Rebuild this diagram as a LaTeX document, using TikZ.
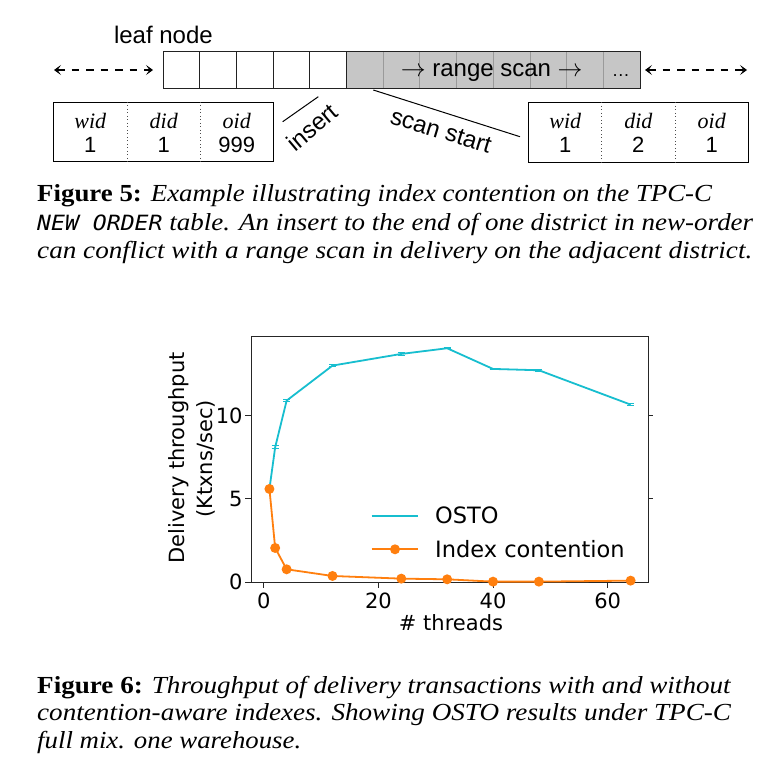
\documentclass[tikz,border=0pt]{standalone}
\usepackage{fontspec}
\usepackage{graphicx}
\setmainfont{Liberation Serif}
\setsansfont{Liberation Sans}
\newfontfamily\dejavu{DejaVu Sans}
\newfontfamily\dvmono{DejaVu Sans Mono}
\usetikzlibrary{arrows.meta}
\definecolor{tabcyan}{HTML}{17BECF}
\definecolor{taborange}{HTML}{FF7F0E}
\definecolor{cellgray}{HTML}{C6C6C6}
\definecolor{divgray}{HTML}{9A9A9A}
\definecolor{inkgray}{HTML}{222222}
\newcommand{\fitline}[2]{\resizebox{#1pt}{\height}{#2}}
\newcommand{\fs}[1]{\fontsize{#1pt}{#1pt}\selectfont}
\begin{document}
\begin{tikzpicture}[x=1pt,y=-1pt,
  cellw/.style={draw=inkgray, line width=1pt, minimum width=36.67pt, minimum height=36.6pt, inner sep=0pt, outer sep=0pt, fill=white},
  cellg/.style={cellw, draw=divgray, fill=cellgray},
  sanslab/.style={font=\sffamily\fs{24}, inner sep=0pt, text=black},
  tabbox/.style={draw=black, line width=1pt, minimum width=220pt, minimum height=59.4pt, inner sep=0pt},
  tabhead/.style={font=\rmfamily\itshape\fs{22}, inner sep=0pt, anchor=base},
  tabval/.style={font=\sffamily\fs{22}, inner sep=0pt, anchor=base},
  tabdiv/.style={draw=black!70, line width=0.9pt, dash pattern=on 1pt off 2.5pt},
  darr/.style={line width=1.1pt, dash pattern=on 7.5pt off 7pt, arrows={Stealth[length=7pt,width=10pt,inset=3.5pt]-Stealth[length=7pt,width=10pt,inset=3.5pt]}},
  pointer/.style={line width=1pt, draw=black},
  caption/.style={anchor=base west, inner sep=0pt, font=\fs{24.5}},
  ticklab/.style={font=\dejavu\fs{21}, inner sep=0pt},
  legtext/.style={font=\dejavu\fs{22.5}, inner sep=0pt, anchor=base west},
  axisline/.style={line width=1pt, draw=black!85},
  osto/.style={draw=tabcyan, line width=1.8pt, line join=round},
  idx/.style={draw=taborange, line width=1.8pt, line join=round},
]
\useasboundingbox (0,0) rectangle (771,758);
\fill[white] (0,0) rectangle (771,758);

% leaf node cells
\foreach \i in {0,...,4} {\node[cellw] (c\i) at ({181.63+36.67*\i},70) {};}
\foreach \i in {5,...,12} {\node[cellg] (c\i) at ({181.63+36.67*\i},70) {};}
\draw[inkgray, line width=1pt] (c0.north west) rectangle (c12.south east);
\draw[inkgray, line width=1pt] (c5.north west) -- (c5.south west);

\node[sanslab, anchor=base] (leaf) at (163.4,43.5) {leaf node};
\node[sanslab, anchor=base] (rscan) at (491.7,76) {$\rightarrow$ range scan $\rightarrow$};
\node[sanslab, anchor=base, font=\sffamily\fs{18}] (dots) at (620.8,76) {\ldots};

% dashed double arrows
\coordinate (la1) at (54,70); \coordinate (la2) at (153,70);
\draw[darr] (la1) -- (la2);
\coordinate (ra1) at (645,70); \coordinate (ra2) at (747,70);
\draw[darr] (ra1) -- (ra2);

% left table
\node[tabbox] (ltab) at (163.3,132) {};
\draw[tabdiv] ([xshift=-36pt]ltab.north) -- ([xshift=-36pt]ltab.south);
\draw[tabdiv] ([xshift=36.7pt]ltab.north) -- ([xshift=36.7pt]ltab.south);
\node[tabhead] (lw) at (90.3,128.5) {wid};
\node[tabhead] (ld) at (163.7,128.5) {did};
\node[tabhead] (lo) at (236.7,128.5) {oid};
\node[tabval] (lwv) at (90.3,152.5) {1};
\node[tabval] (ldv) at (163.7,152.5) {1};
\node[tabval] (lov) at (236.7,152.5) {999};

% right table
\node[tabbox] (rtab) at (638.6,132.5) {};
\draw[tabdiv] ([xshift=-36.9pt]rtab.north) -- ([xshift=-36.9pt]rtab.south);
\draw[tabdiv] ([xshift=36.4pt]rtab.north) -- ([xshift=36.4pt]rtab.south);
\node[tabhead] (rw) at (565.3,128.5) {wid};
\node[tabhead] (rd) at (638.3,128.5) {did};
\node[tabhead] (ro) at (711.7,128.5) {oid};
\node[tabval] (rwv) at (565.3,152.5) {1};
\node[tabval] (rdv) at (638.3,152.5) {2};
\node[tabval] (rov) at (711.7,152.5) {1};

% insert and scan start
\node[sanslab, rotate=40] (ins) at (312,127) {insert};
\coordinate (insA) at (282.7,121.7); \coordinate (insB) at (318.3,96.7);
\draw[pointer] (insA) -- (insB);
\node[sanslab, rotate=-17] (sst) at (441,131) {scan start};
\coordinate (ssA) at (373.3,90); \coordinate (ssB) at (520,136.7);
\draw[pointer] (ssA) -- (ssB);

% captions
\node[caption] (f5a) at (37,201) {\fitline{675}{\textbf{Figure 5:} \textit{Example illustrating index contention on the TPC-C}}};
\node[caption] (f5b) at (37,230) {\fitline{716}{\textit{{\dvmono\fs{21}NEW ORDER} table. An insert to the end of one district in new-order}}};
\node[caption] (f5c) at (37,258.5) {\fitline{715}{\textit{can conflict with a range scan in delivery on the adjacent district.}}};
\node[caption] (f6a) at (37,693) {\fitline{694}{\textbf{Figure 6:} \textit{Throughput of delivery transactions with and without}}};
\node[caption] (f6b) at (37,720.5) {\fitline{694}{\textit{contention-aware indexes. Showing OSTO results under TPC-C}}};
\node[caption] (f6c) at (37,748) {\fitline{264}{\textit{full mix. one warehouse.}}};

% plot
\begin{scope}[shift={(263.7,582.3)}, x=5.733pt, y=16.67pt]
  \draw[axisline] (-2.15,0) rectangle (67.15,14.75);
  \foreach \X in {0,20,40,60} {
    \draw[axisline] (\X,0) -- ++(0pt,-6pt);
    \node[ticklab, anchor=north, yshift=-10.5pt] at (\X,0) {\X};
  }
  \foreach \Y in {0,5,10} {
    \draw[axisline] (-2.15,\Y) -- ++(-6pt,0pt);
    \node[ticklab, anchor=east, xshift=-8.7pt] at (-2.15,\Y) {\Y};
  }
  \foreach \Y in {5,10} {\draw[axisline] (67.15,\Y) -- ++(4pt,0pt);}
  \draw[osto] (1,5.6) -- (2,8.1) -- (4,10.9) -- (12,13.0) -- (24,13.7) -- (32,14.04) -- (40,12.8) -- (48,12.72) -- (64,10.66);
  \foreach \X/\Y/\E in {2/8.1/0.1, 4/10.9/0.04, 12/13.0/0.04, 24/13.7/0.08, 32/14.04/0.03, 40/12.8/0.03, 48/12.72/0.05, 64/10.66/0.04} {
    \draw[tabcyan, line width=1pt] ([xshift=-3.5pt]\X,{\Y+\E}) -- ([xshift=3.5pt]\X,{\Y+\E});
    \draw[tabcyan, line width=1pt] ([xshift=-3.5pt]\X,{\Y-\E}) -- ([xshift=3.5pt]\X,{\Y-\E});
  }
  \draw[idx] (1,5.6) -- (2,2.06) -- (4,0.78) -- (12,0.38) -- (24,0.22) -- (32,0.18) -- (40,0.04) -- (48,0.04) -- (64,0.1);
  \foreach \X/\Y in {1/5.6, 2/2.06, 4/0.78, 12/0.38, 24/0.22, 32/0.18, 40/0.04, 48/0.04, 64/0.1} {
    \fill[taborange] (\X,\Y) circle[radius=5pt];
  }
\end{scope}

% legend
\coordinate (lg1a) at (371.7,515.7); \coordinate (lg1b) at (418,515.7);
\draw[osto] (lg1a) -- (lg1b);
\coordinate (lg2a) at (371.7,549.3); \coordinate (lg2b) at (418,549.3);
\draw[idx] (lg2a) -- (lg2b);
\fill[taborange] (395,549.3) circle[radius=5pt];
\node[legtext] (lt1) at (435,523.5) {OSTO};
\node[legtext] (lt2) at (435,557.5) {Index contention};

% axis labels
\node[ticklab, anchor=base] (xlab) at (451,630) {\# threads};
\node[ticklab, rotate=90] (ylab1) at (178.7,458) {Delivery throughput};
\node[ticklab, rotate=90] (ylab2) at (205.5,459) {(Ktxns/sec)};
\end{tikzpicture}
\end{document}
